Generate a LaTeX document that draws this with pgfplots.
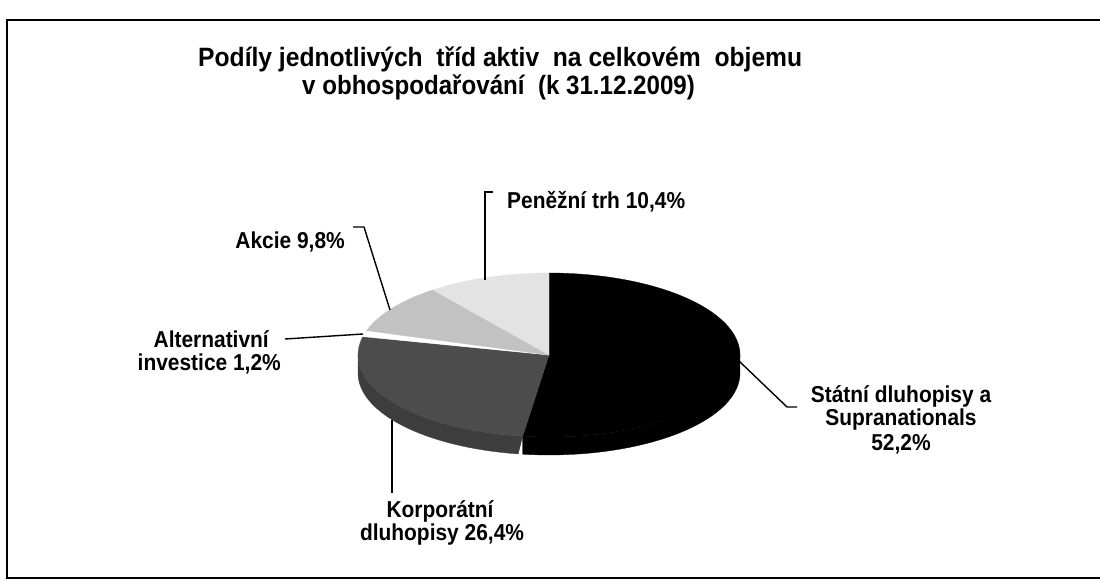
\documentclass[border=0pt]{standalone}
\usepackage{fontspec}
\setmainfont{Liberation Sans}
\newfontfamily\cond[FakeStretch=0.91]{Liberation Sans}
\newfontfamily\condt[FakeStretch=0.93]{Liberation Sans}
\usepackage{pgfplots}
\usepackage{pgfplotstable}
\pgfplotsset{compat=1.18}

\pgfplotstableread{
label pct
Statni 52.2
Korporatni 26.4
Alternativni 1.2
Akcie 9.8
Penezni 10.4
}\piedata

\begin{document}
\begin{tikzpicture}[
  lbl/.style={font=\cond\fontsize{23}{26}\selectfont\bfseries},
  ttl/.style={font=\cond\fontsize{26.5}{30}\selectfont\bfseries},
  ttla/.style={font=\condt\fontsize{26.5}{30}\selectfont\bfseries},
  lead/.style={line width=1.4pt, black}]
\pgfplotstablegetelem{0}{pct}\of\piedata \let\pA\pgfplotsretval
\pgfplotstablegetelem{1}{pct}\of\piedata \let\pB\pgfplotsretval
\pgfplotstablegetelem{2}{pct}\of\piedata \let\pC\pgfplotsretval
\pgfplotstablegetelem{3}{pct}\of\piedata \let\pD\pgfplotsretval
\pgfplotstablegetelem{4}{pct}\of\piedata \let\pE\pgfplotsretval
\pgfmathsetmacro{\aA}{90-3.6*\pA}
\pgfmathsetmacro{\aB}{\aA-3.6*\pB}
\pgfmathsetmacro{\aC}{\aB-3.6*\pC}
\pgfmathsetmacro{\aD}{\aC-3.6*\pD}
\pgfmathsetmacro{\aE}{\aD-3.6*\pE}
\def\cx{549}\def\cy{355}\def\rx{191}\def\ry{82}\def\dz{18}
\begin{axis}[scale only axis, width=1100pt, height=580pt,
  xmin=0, xmax=1100, ymin=0, ymax=580, y dir=reverse,
  hide axis, clip=false,
  declare function={
    px(\t)=\cx+\rx*cos(\t);
    py(\t)=\cy-\ry*sin(\t);
  }]
% frame
\draw[line width=2pt] (axis cs:1101,20) -- (axis cs:7,20) -- (axis cs:7,578) -- (axis cs:1101,578);
% side walls (visible lower half)
\addplot[fill=black!76, draw=black!76, line width=0.3pt, domain=0:2, samples=121]
  ({px(ifthenelse(x<=1, -180+(\aA+180)*x, \aA-(\aA+180)*(x-1)))},
   {py(ifthenelse(x<=1, -180+(\aA+180)*x, \aA-(\aA+180)*(x-1))) + ifthenelse(x<=1,0,\dz)}) -- cycle;
\addplot[fill=black, draw=black, line width=0.3pt, domain=0:2, samples=121]
  ({px(ifthenelse(x<=1, \aA+(0-\aA)*x, 0-(0-\aA)*(x-1)))},
   {py(ifthenelse(x<=1, \aA+(0-\aA)*x, 0-(0-\aA)*(x-1))) + ifthenelse(x<=1,0,\dz)}) -- cycle;
% top faces
\addplot[fill=black, draw=black, line width=0.3pt, domain=\aA:90, samples=100]
  ({px(x)},{py(x)}) -- (axis cs:\cx,\cy) -- cycle;
\addplot[fill=black!70, draw=black!70, line width=0.3pt, domain=\aB:\aA, samples=60]
  ({px(x)},{py(x)}) -- (axis cs:\cx,\cy) -- cycle;
\addplot[fill=white, draw=white, line width=0.3pt, domain=\aC:\aB, samples=10]
  ({px(x)},{py(x)}) -- (axis cs:\cx,\cy) -- cycle;
\addplot[fill=black!24, draw=black!24, line width=0.3pt, domain=\aD:\aC, samples=30]
  ({px(x)},{py(x)}) -- (axis cs:\cx,\cy) -- cycle;
\addplot[fill=black!11, draw=black!11, line width=0.3pt, domain=\aE:\aD, samples=30]
  ({px(x)},{py(x)}) -- (axis cs:\cx,\cy) -- cycle;
% title
\node[ttla, anchor=base west, inner sep=0pt] at (axis cs:198,67) {Podíly jednotlivých\ \ tříd aktiv\ \ na celkovém\ \ objemu};
\node[ttl, anchor=base west, inner sep=0pt] at (axis cs:302,95) {v obhospodařování\ \ (k 31.12.2009)};
% leaders
\draw[lead] (axis cs:493,192) -- (axis cs:485,192) -- (axis cs:485,280);
\draw[lead] (axis cs:353,227) -- (axis cs:364,227) -- (axis cs:390,310);
\draw[lead] (axis cs:285,339) -- (axis cs:363,334);
\draw[lead] (axis cs:392,420) -- (axis cs:392,493);
\draw[lead] (axis cs:739,361) -- (axis cs:787,407) -- (axis cs:797,407);
% labels
\node[lbl, anchor=base west, inner sep=0pt] at (axis cs:507,208) {Peněžní trh 10,4\%};
\node[lbl, anchor=base east, inner sep=0pt] at (axis cs:345,248) {Akcie 9,8\%};
\node[lbl, anchor=base east, inner sep=0pt] at (axis cs:269,347) {Alternativní};
\node[lbl, anchor=base east, inner sep=0pt] at (axis cs:281,370) {investice 1,2\%};
\node[lbl, anchor=base, inner sep=0pt] at (axis cs:440,517) {Korporátní};
\node[lbl, anchor=base, inner sep=0pt] at (axis cs:442,540) {dluhopisy 26,4\%};
\node[lbl, anchor=base, inner sep=0pt] at (axis cs:901,402) {Státní dluhopisy a};
\node[lbl, anchor=base, inner sep=0pt] at (axis cs:901,425) {Supranationals};
\node[lbl, anchor=base, inner sep=0pt] at (axis cs:901,450) {52,2\%};
\end{axis}
\pgfresetboundingbox
\useasboundingbox (0,0) rectangle (1100pt,580pt);
\end{tikzpicture}
\end{document}
